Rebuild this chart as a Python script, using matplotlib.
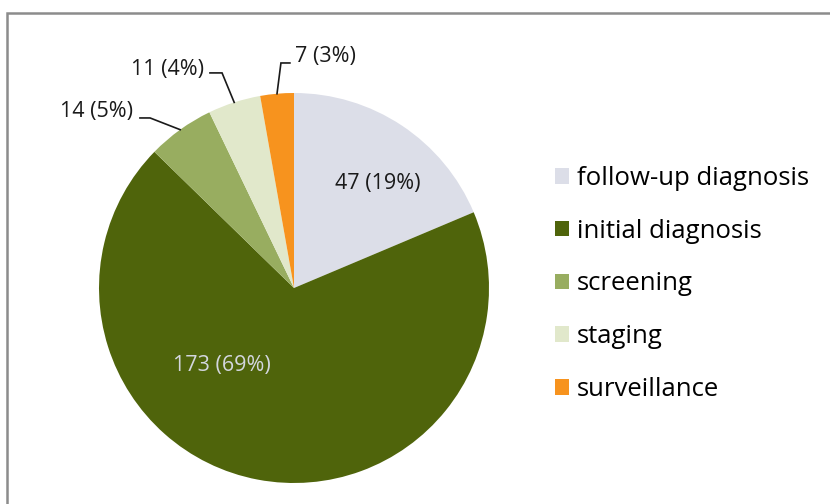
import numpy as np
import matplotlib.pyplot as plt
from matplotlib.patches import Rectangle

categories = ['follow-up diagnosis', 'initial diagnosis', 'screening', 'staging', 'surveillance']
counts = [47, 173, 14, 11, 7]
percents = [19, 69, 5, 4, 3]
colors = ['#dcdee8', '#4f640b', '#98ad60', '#e1e8cb', '#f7931e']

plt.rcParams['font.family'] = ['Open Sans', 'DejaVu Sans']

fig = plt.figure(figsize=(8.3, 5.04), dpi=100)

# outer frame (only left and top edges are visible)
fig.patches.append(Rectangle((7 / 830, -0.05), 1.1, 1 - 13 / 504 + 0.05,
                             transform=fig.transFigure, fill=False,
                             edgecolor='#8c8c8c', linewidth=1.8))

# pie centred at (294, 288) px with radius 195 px
ax = fig.add_axes([99 / 830, 21 / 504, 390 / 830, 390 / 504])
wedges, _ = ax.pie(counts, colors=colors, startangle=90, counterclock=False,
                   radius=1, wedgeprops=dict(linewidth=0))
ax.set_xlim(-1, 1)
ax.set_ylim(-1, 1)
ax.set_aspect('equal')

labels = ['%d (%d%%)' % (c, p) for c, p in zip(counts, percents)]
fs = 15.5

# inside labels
ax.text(0.431, 0.538, labels[0], ha='center', va='center', fontsize=fs, color='#1a1a1a')
ax.text(-0.369, -0.395, labels[1], ha='center', va='center', fontsize=fs, color='#d3d6de')

# outside labels with leader lines: text x, text y, ha, line end x, elbow x, line y
outside = {
    2: (-0.826, 0.903, 'right', -0.790, -0.738, 0.872),
    3: (-0.462, 1.118, 'right', -0.431, -0.369, 1.103),
    4: (0.005, 1.185, 'left', -0.021, -0.067, 1.154),
}
total = sum(counts)
cum = np.cumsum([0] + counts)
for i, (tx, ty, ha, lx, ex, ly) in outside.items():
    mid = (cum[i] + counts[i] / 2) / total * 2 * np.pi
    px, py = np.sin(mid), np.cos(mid)
    ax.plot([px, ex, lx], [py, ly, ly], color='#1a1a1a', lw=1.2, clip_on=False,
            solid_joinstyle='miter')
    ax.text(tx, ty, labels[i], ha=ha, va='center', fontsize=fs, color='#1a1a1a')

leg = fig.legend(wedges, categories, loc='center left', bbox_to_anchor=(542 / 830, 1 - 284 / 504),
                 frameon=False, fontsize=18.5, handlelength=0.55, handleheight=0.55,
                 handletextpad=0.3, labelspacing=1.08, borderpad=0)

fig.savefig('out.png', dpi=100)
